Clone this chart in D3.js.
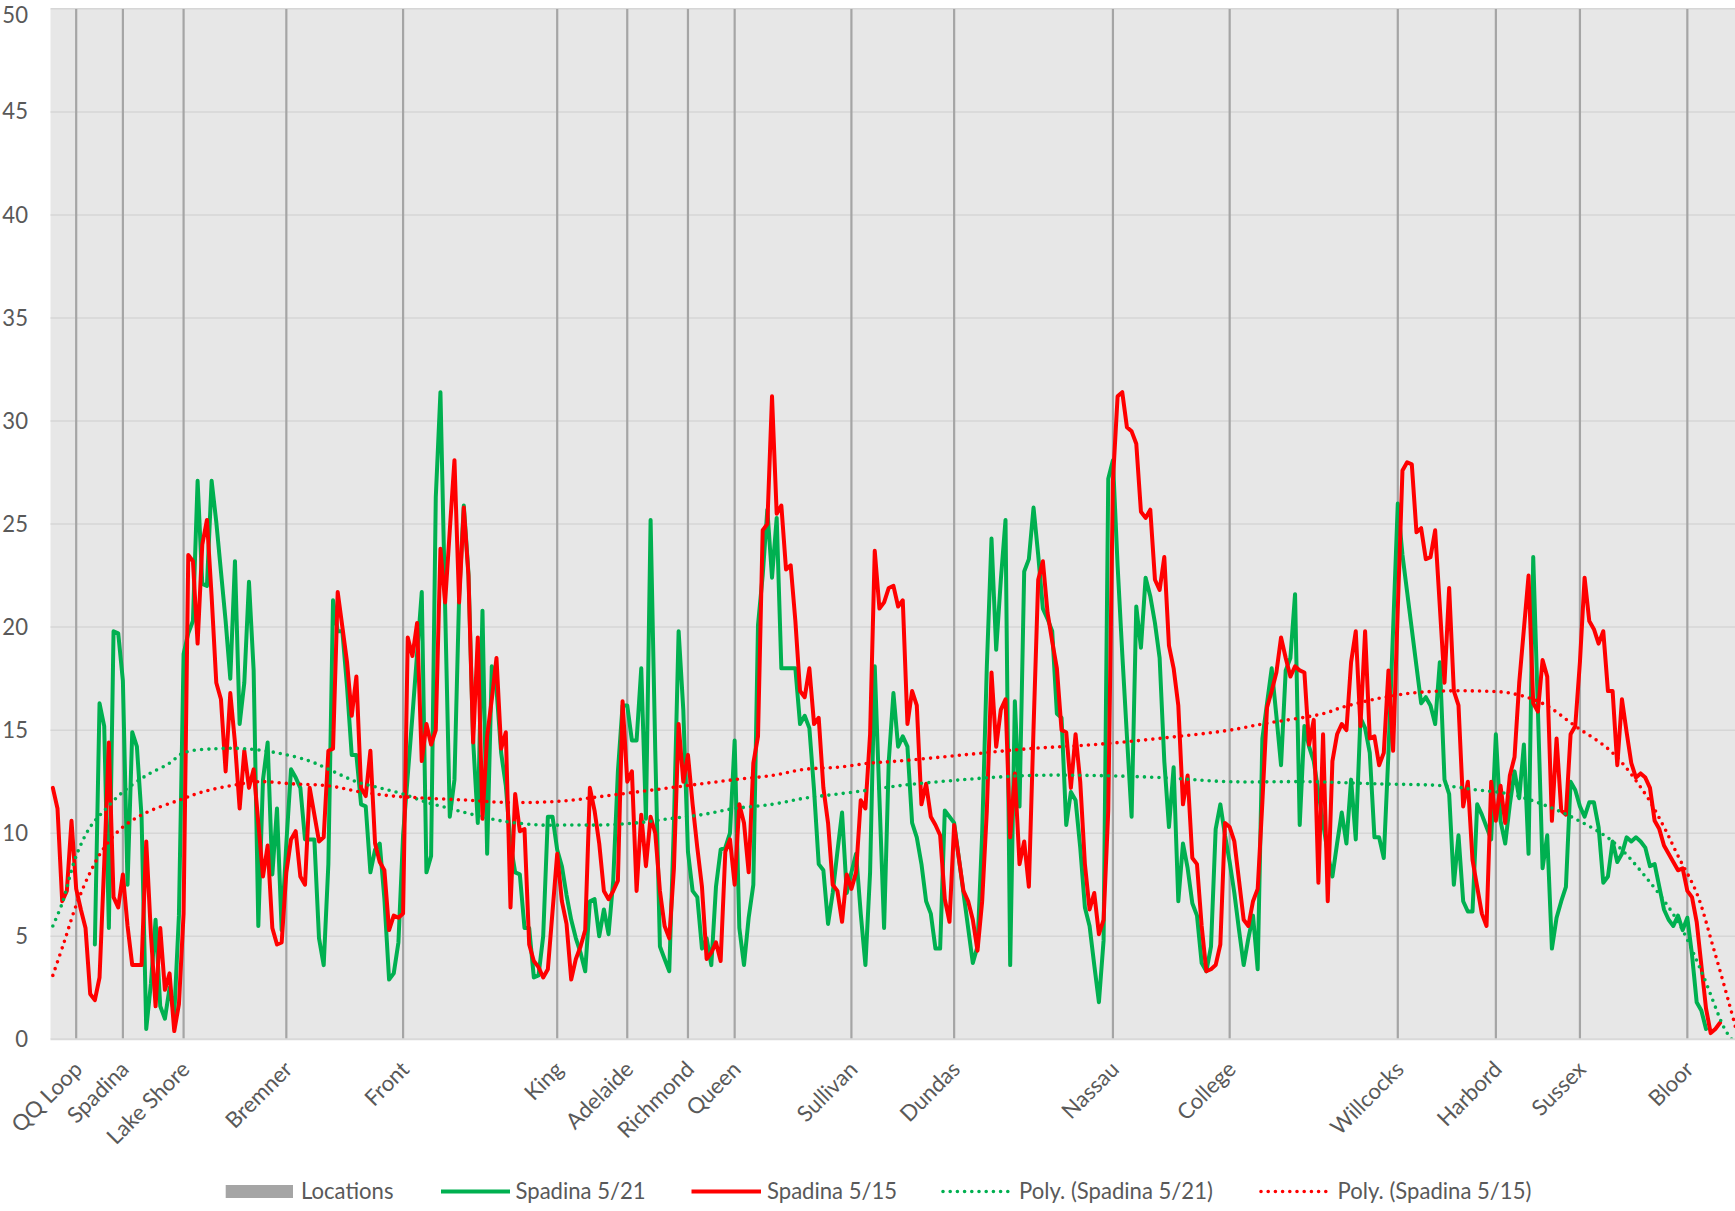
<!DOCTYPE html>
<html>
<head>
<meta charset="utf-8">
<script src="https://cdn.jsdelivr.net/npm/d3@7"></script>
<style>
  html, body { margin: 0; padding: 0; background: #ffffff; }
  svg { display: block; }
  text { font-family: "Lato", "Open Sans", sans-serif; fill: #595959; }
</style>
</head>
<body>
<svg id="chart" width="1735" height="1211"></svg>
<script>
// ---------------- DATA ----------------
const categoryCount = 361;
const locationNames = ["QQ Loop","Spadina","Lake Shore","Bremner","Front","King","Adelaide","Richmond","Queen","Sullivan","Dundas","Nassau","College","Willcocks","Harbord","Sussex","Bloor"];
const locationIndex = [5,15,28,50,75,108,123,136,146,171,193,227,252,288,309,327,350];
const locationValue = 50;
const yTickValues = [0,5,10,15,20,25,30,35,40,45,50];

// Spadina 5/21 (green) — first 9 categories empty
const spadina521 = [null,null,null,null,null,null,null,null,null,
4.6,16.3,15.2,5.4,19.8,19.7,17.4,7.5,14.9,14.2,10.8,0.5,2.7,5.8,1.6,1.0,2.5,1.2,6.0,18.7,
19.7,20.3,27.1,22.1,22.0,27.1,25.1,22.7,20.3,17.5,23.2,15.3,17.3,22.2,17.9,5.5,12.6,14.4,8.0,11.2,
5.3,9.5,13.1,12.7,12.2,9.7,9.7,9.7,4.9,3.6,8.5,21.3,19.8,19.8,17.1,13.8,13.8,11.4,11.3,8.1,
9.2,9.5,6.8,2.9,3.2,4.7,9.9,12.8,15.7,18.7,21.7,8.1,8.9,26.3,31.4,21.0,10.8,12.6,21.5,25.9,
22.6,14.5,10.5,20.8,9.0,18.1,17.0,13.9,12.3,9.5,8.1,8.0,5.4,5.4,3.0,3.1,5.0,10.8,10.8,9.2,
8.4,7.0,5.8,4.9,4.2,3.3,6.7,6.8,5.0,6.3,5.1,7.7,13.0,16.2,16.2,14.5,14.5,18.0,10.7,25.2,
14.0,4.5,3.9,3.3,10.5,19.8,16.0,9.1,7.2,6.9,4.4,4.9,3.6,7.4,9.2,9.3,10.0,14.5,5.4,3.6,
5.9,7.5,20.1,22.5,25.7,22.4,25.3,18.0,18.0,18.0,18.0,15.3,15.7,15.1,12.1,8.5,8.2,5.6,7.1,9.1,
11.0,7.1,8.1,9.0,6.1,3.6,8.1,18.1,11.7,5.4,13.5,16.8,14.2,14.7,14.2,10.5,9.8,8.5,6.7,6.1,
4.4,4.4,11.1,10.8,10.5,8.8,7.1,5.4,3.7,4.5,10.0,18.1,24.3,18.9,22.3,25.2,3.6,16.4,11.3,22.7,
23.3,25.8,23.5,20.9,20.4,19.8,15.8,15.6,10.4,12.0,11.6,9.3,6.4,5.5,3.6,1.8,4.8,27.2,28.1,23.0,
18.7,14.7,10.8,21.0,19.0,22.4,21.5,20.2,18.5,13.5,10.3,13.2,6.7,9.5,8.3,6.6,6.0,3.7,3.3,4.5,
10.2,11.4,9.9,8.6,7.1,5.3,3.6,4.9,6.0,3.4,14.6,16.3,18.0,15.7,13.3,17.9,18.5,21.6,10.4,15.2,
14.2,13.5,12.0,10.5,9.0,7.9,9.5,11.0,9.5,12.6,9.7,15.6,15.1,13.9,9.8,9.8,8.8,13.9,19.9,26.0,
23.5,21.7,19.9,18.1,16.3,16.6,16.2,15.3,18.3,12.6,11.9,7.5,9.9,6.7,6.2,6.2,11.4,10.9,10.3,9.7,
14.8,10.6,9.5,11.4,13.0,11.7,14.3,9.0,23.4,16.0,8.3,9.9,4.4,5.9,6.7,7.4,12.5,12.1,11.3,10.8,
11.5,11.5,10.3,7.6,7.9,9.6,8.6,9.0,9.8,9.6,9.8,9.6,9.3,8.4,8.5,7.4,6.3,5.8,5.5,6.0,
5.3,5.9,4.1,1.8,1.4,0.5];

// Spadina 5/15 (red)
const spadina515 = [
12.2,11.2,6.7,7.2,10.6,7.3,6.3,5.4,2.2,1.9,3.0,8.5,14.4,6.9,6.4,8.0,5.5,3.6,3.6,3.6,
9.6,5.1,1.6,5.4,2.4,3.2,0.4,1.7,6.1,23.5,23.2,19.2,24.0,25.2,21.5,17.3,16.5,13.0,16.8,14.4,
11.2,14.0,12.2,13.1,10.5,7.9,9.4,5.4,4.6,4.7,8.1,9.7,10.1,7.9,7.5,12.2,10.9,9.6,9.8,14.0,
14.1,21.7,20.0,18.3,15.7,17.6,12.2,11.8,14.0,9.5,8.6,8.2,5.3,6.0,5.9,6.1,19.5,18.6,20.2,13.5,
15.3,14.3,15.0,23.8,21.2,24.7,28.1,21.2,25.8,22.5,14.4,19.5,10.7,14.7,16.5,18.5,14.1,14.9,6.4,11.9,
10.1,10.2,4.6,3.8,3.5,3.0,3.4,6.2,9.0,6.7,5.6,2.9,3.9,4.5,5.3,12.2,11.1,9.5,7.2,6.8,
7.2,7.7,16.4,12.5,13.0,7.2,10.9,8.4,10.8,10.0,7.2,5.5,4.9,8.3,15.3,12.5,13.8,11.4,9.3,7.4,
3.9,4.2,4.7,3.8,9.1,9.7,7.5,11.4,10.5,8.1,13.4,14.7,24.7,25.0,31.2,25.5,25.9,22.8,23.0,20.3,
16.9,16.6,18.0,15.3,15.6,12.2,10.5,7.5,7.2,5.7,8.0,7.3,8.1,11.6,11.2,14.8,23.7,20.9,21.2,21.9,
22.0,21.0,21.3,15.3,16.9,16.2,11.4,12.4,10.8,10.4,9.9,6.8,5.7,10.4,8.8,7.2,6.7,5.8,4.3,6.7,
11.1,17.8,14.2,16.0,16.5,9.8,12.9,8.5,9.6,7.4,15.1,22.3,23.2,20.7,19.3,18.0,15.0,14.9,12.2,14.8,
12.5,8.5,6.3,7.1,5.1,5.8,11.1,27.1,31.2,31.4,29.7,29.5,28.9,25.6,25.3,25.7,22.3,21.8,23.4,19.1,
18.0,16.2,11.4,12.8,8.8,8.5,5.5,3.3,3.4,3.6,4.6,10.5,10.3,9.6,7.7,5.8,5.5,6.7,7.3,11.5,
16.1,16.9,17.8,19.5,18.5,17.6,18.1,17.9,17.8,14.3,15.5,7.6,14.8,6.7,13.5,14.8,15.3,15.0,18.3,19.8,
15.2,19.8,14.6,14.7,13.3,13.9,17.9,14.0,20.9,27.6,28.0,27.9,24.6,24.8,23.3,23.4,24.7,21.0,17.3,21.9,
16.9,16.2,11.3,12.5,8.7,7.4,6.1,5.5,12.5,10.6,12.3,10.5,12.8,13.7,17.3,19.9,22.5,16.3,15.9,18.4,
17.6,10.6,14.6,11.1,10.9,14.8,15.2,18.3,22.4,20.3,19.9,19.2,19.8,16.9,16.9,13.3,16.5,14.9,13.4,12.7,
12.9,12.7,12.2,10.6,10.2,9.4,9.0,8.6,8.2,8.3,7.2,6.9,5.7,3.6,1.5,0.3,0.5,0.8];

// Polynomial trendlines at category positions
const trendGreenIdx = [0,2,5,8,11,15,20,25,28,35,41,48,55,60,65,70,75,80,85,90,96,104,111,118,125,132,139,146,154,161,168,175,181,195,209,223,237,252,269,283,298,305,312,319,326,334,341,348,353,358,359.5];
const trendGreenVal = [5.5,6.6,8.9,10.3,11.1,12.0,12.8,13.4,13.9,14.1,14.1,13.9,13.5,13.0,12.5,12.2,11.9,11.5,11.2,10.9,10.6,10.4,10.4,10.4,10.5,10.7,10.9,11.2,11.4,11.7,11.9,12.1,12.3,12.6,12.8,12.8,12.7,12.5,12.5,12.4,12.3,12.1,11.9,11.4,10.7,9.6,7.9,5.7,3.3,0.5,0];
const trendRedIdx = [0,2.4,5,8,11,15,20,27,32,38,44,51,59,66,73,80,89,96,104,111,118,125,132,139,146,154,161,168,175,181,195,209,223,237,252,259,272,276,283,291,298,305,312,319,326,334,341,345,348,352,355.5,359,361];
const trendRedVal = [3.1,4.7,6.5,8.1,9.3,10.3,11.0,11.6,12.0,12.3,12.5,12.4,12.3,12.0,11.8,11.7,11.6,11.5,11.5,11.6,11.8,12.0,12.2,12.4,12.6,12.8,13.1,13.2,13.4,13.5,13.8,14.1,14.3,14.6,15.0,15.3,15.8,16.1,16.5,16.8,16.9,16.9,16.8,16.3,15.2,13.9,11.9,10.3,8.9,7.1,4.5,1.7,0];

const legendLabels = ["Locations","Spadina 5/21","Spadina 5/15","Poly. (Spadina 5/21)","Poly. (Spadina 5/15)"];

// ---------------- LAYOUT ----------------
const W = 1735, H = 1211;
const plot = { left: 50.5, top: 8.85, bottom: 1039.3, step: 4.67 };
plot.right = plot.left + categoryCount * plot.step;
const GREEN = "#00B050", RED = "#FF0000", GREY = "#A5A5A5";

const svg = d3.select("#chart");

// calibrate font size so that text widths match the reference (Calibri-like metrics)
const probe = svg.append("text").attr("font-size", 24).text("Poly. (Spadina 5/15)");
const probeW = probe.node().getComputedTextLength();
probe.remove();
const FS = 24 * 194 / probeW;

const x = d3.scaleLinear().domain([-0.5, categoryCount - 0.5]).range([plot.left, plot.right]);
const y = d3.scaleLinear().domain([0, 50]).range([plot.bottom, plot.top]);

svg.append("rect").attr("width", W).attr("height", H).attr("fill", "#ffffff");

svg.append("defs").append("clipPath").attr("id", "plotclip")
  .append("rect").attr("x", plot.left).attr("y", plot.top)
  .attr("width", plot.right - plot.left).attr("height", plot.bottom - plot.top);

// plot background
svg.append("rect").attr("x", plot.left).attr("y", plot.top)
  .attr("width", plot.right - plot.left).attr("height", plot.bottom - plot.top)
  .attr("fill", "#E7E7E7");

// horizontal gridlines
svg.append("g").selectAll("line").data(yTickValues.filter(v => v > 0)).join("line")
  .attr("x1", plot.left).attr("x2", plot.right)
  .attr("y1", d => y(d)).attr("y2", d => y(d))
  .attr("stroke", "#D6D6D6").attr("stroke-width", 1.5);

// y axis labels
const yAxis = d3.axisLeft(y).tickValues(yTickValues).tickSize(0).tickPadding(0);
const gy = svg.append("g").attr("transform", `translate(28,0)`).call(yAxis);
gy.select(".domain").remove();
gy.selectAll("text").attr("font-size", FS).attr("fill", "#595959")
  .style("font-family", '"Lato", "Open Sans", sans-serif')
  .attr("dy", d => d === 50 ? "0.62em" : "0.32em");

// Locations (thin columns)
const g = svg.append("g").attr("clip-path", "url(#plotclip)");
g.selectAll("rect.loc").data(locationIndex).join("rect").attr("class", "loc")
  .attr("x", d => x(d) - 1.1).attr("width", 2.2)
  .attr("y", y(locationValue)).attr("height", y(0) - y(locationValue))
  .attr("fill", GREY);

// x axis line
svg.append("line").attr("x1", plot.left).attr("x2", plot.right)
  .attr("y1", y(0)).attr("y2", y(0)).attr("stroke", "#D9D9D9").attr("stroke-width", 2);

// series lines
const line = d3.line().defined(d => d != null).x((d, i) => x(i)).y(d => y(d));
g.append("path").datum(spadina521).attr("d", line)
  .attr("fill", "none").attr("stroke", GREEN).attr("stroke-width", 4)
  .attr("stroke-linejoin", "round").attr("stroke-linecap", "round");
g.append("path").datum(spadina515).attr("d", line)
  .attr("fill", "none").attr("stroke", RED).attr("stroke-width", 4)
  .attr("stroke-linejoin", "round").attr("stroke-linecap", "round");

// trendlines
const tline = d3.line().curve(d3.curveCatmullRom.alpha(0.5)).x(d => x(d[0])).y(d => y(d[1]));
const tg = trendGreenIdx.map((v, i) => [v, trendGreenVal[i]]);
const tr = trendRedIdx.map((v, i) => [v, trendRedVal[i]]);
g.append("path").datum(tg).attr("d", tline)
  .attr("fill", "none").attr("stroke", GREEN).attr("stroke-width", 3.6)
  .attr("stroke-linecap", "round").attr("stroke-dasharray", "0 7.2");
g.append("path").datum(tr).attr("d", tline)
  .attr("fill", "none").attr("stroke", RED).attr("stroke-width", 3.6)
  .attr("stroke-linecap", "round").attr("stroke-dasharray", "0 7.2");

// x category labels (rotated)
svg.append("g").selectAll("text").data(locationIndex).join("text")
  .attr("transform", d => `translate(${x(d) + 2},${plot.bottom + 26}) rotate(-45)`)
  .attr("text-anchor", "end").attr("dy", "0.35em")
  .attr("font-size", FS)
  .text((d, i) => locationNames[i]);

// legend
const ly = 1191.5;
const leg = svg.append("g");
leg.append("rect").attr("x", 225.7).attr("y", ly - 6.5).attr("width", 67.3).attr("height", 13).attr("fill", GREY);
const legItems = [
  { x1: 441, x2: 510, color: GREEN, dash: null, tx: 515.5 },
  { x1: 691.5, x2: 761, color: RED, dash: null, tx: 767 },
  { x1: 943, x2: 1011, color: GREEN, dash: "0 7.2", tx: 1019 },
  { x1: 1261, x2: 1331, color: RED, dash: "0 7.2", tx: 1337.5 }
];
legItems.forEach(it => {
  const l = leg.append("line").attr("x1", it.x1).attr("x2", it.x2).attr("y1", ly).attr("y2", ly)
    .attr("stroke", it.color).attr("stroke-width", it.dash ? 3.6 : 4)
    .attr("stroke-linecap", it.dash ? "round" : "butt");
  if (it.dash) l.attr("stroke-dasharray", it.dash);
});
const legTextX = [301, 515.5, 767, 1019, 1337.5];
leg.selectAll("text").data(legendLabels).join("text")
  .attr("x", (d, i) => legTextX[i]).attr("y", ly).attr("dy", "0.35em")
  .attr("font-size", FS).text(d => d);
</script>
</body>
</html>
